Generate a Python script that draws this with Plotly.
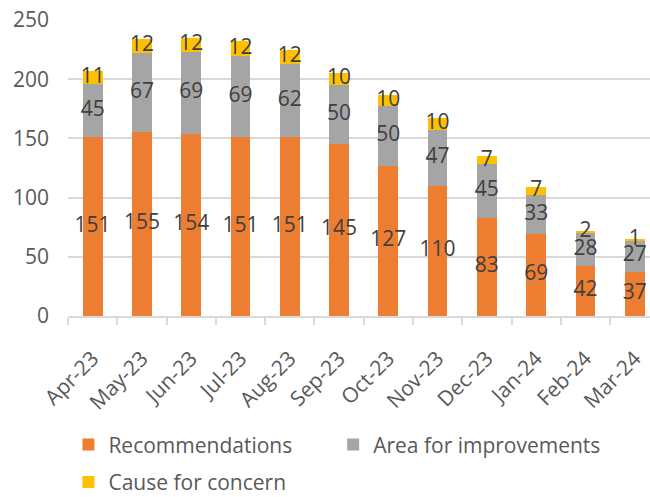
import plotly.graph_objects as go

months = ["Apr-23", "May-23", "Jun-23", "Jul-23", "Aug-23", "Sep-23",
          "Oct-23", "Nov-23", "Dec-23", "Jan-24", "Feb-24", "Mar-24"]
recommendations = [151, 155, 154, 151, 151, 145, 127, 110, 83, 69, 42, 37]
area_for_improvements = [45, 67, 69, 69, 62, 50, 50, 47, 45, 33, 28, 27]
cause_for_concern = [11, 12, 12, 12, 12, 10, 10, 10, 7, 7, 2, 1]

series = [
    ("Recommendations", recommendations, "#ED7D31", "legend"),
    ("Area for improvements", area_for_improvements, "#A5A5A5", "legend3"),
    ("Cause for concern", cause_for_concern, "#FFC000", "legend2"),
]

FONT = "Open Sans"
fig = go.Figure()
base = [0] * len(months)
label_x, label_y, label_t = [], [], []
for name, vals, color, leg in series:
    fig.add_trace(go.Bar(
        x=months, y=vals, name=name, marker=dict(color=color, line=dict(width=0)),
        width=0.4, legend=leg, hoverinfo="x+y+name",
    ))
    for i, v in enumerate(vals):
        label_x.append(months[i])
        label_y.append(base[i] + v / 2)
        label_t.append(str(v))
        base[i] += v

fig.add_trace(go.Scatter(
    x=label_x, y=label_y, text=label_t, mode="text",
    textfont=dict(family=FONT, size=21, color="#404040"),
    showlegend=False, hoverinfo="skip",
))

leg_common = dict(orientation="h", xanchor="left", yanchor="middle",
                  font=dict(family=FONT, size=21, color="#595959"),
                  itemwidth=30, bgcolor="rgba(0,0,0,0)")

fig.update_layout(
    template="none",
    width=650, height=497,
    margin=dict(l=67.6, r=0, t=19.5, b=181, autoexpand=False),
    paper_bgcolor="white", plot_bgcolor="white",
    barmode="stack",
    font=dict(family=FONT, size=20, color="#595959"),
    legend=dict(x=0.0007, y=-0.435, **leg_common),
    legend3=dict(x=0.4556, y=-0.435, **leg_common),
    legend2=dict(x=0.0007, y=-0.562, **leg_common),
    xaxis=dict(
        type="category", range=[-0.5, 11.31], automargin=False,
        showline=True, linecolor="#D9D9D9", linewidth=2,
        ticks="outside", tickson="boundaries", ticklen=7, tickwidth=2, tickcolor="#D9D9D9",
        tickangle=-45, tickfont=dict(family=FONT, size=21, color="#595959"),
        ticklabelstandoff=20,
        showgrid=False, zeroline=False,
    ),
    yaxis=dict(
        range=[0, 250], dtick=50, tick0=0, automargin=False,
        showgrid=True, gridcolor="#D9D9D9", gridwidth=2,
        zeroline=False, showline=False, ticks="",
        ticklabelstandoff=18,
        tickfont=dict(family=FONT, size=21, color="#595959"),
    ),
)

fig.write_html("out.html")
